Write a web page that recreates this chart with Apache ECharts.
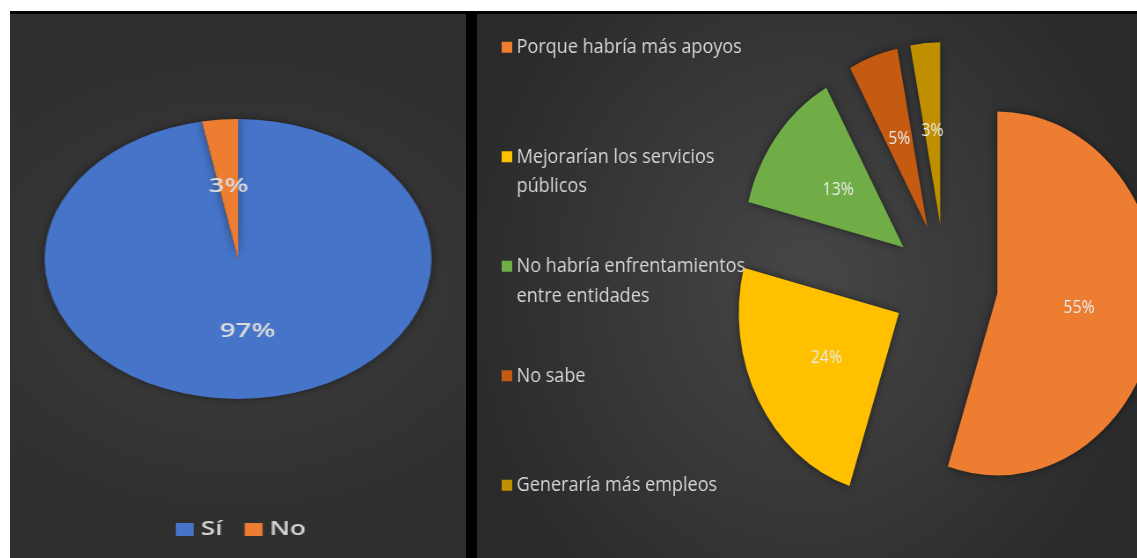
<!DOCTYPE html>
<html>
<head>
<meta charset="utf-8">
<script src="https://cdn.jsdelivr.net/npm/echarts@6/dist/echarts.min.js"></script>
<style>
  html, body { margin: 0; padding: 0; background: #fff; overflow: hidden; width: 1137px; height: 558px; }
  .marco { position: absolute; left: 10px; top: 11px; width: 1127px; height: 547px; background: #000; }
  .panel { position: absolute; top: 14px; height: 544px; overflow: hidden; }
  .lienzo { height: 544px; transform-origin: 0 0; }
</style>
</head>
<body>
<div class="marco"></div>
<div class="panel" style="left:10px;width:456px">
  <div id="izq" class="lienzo" style="width:330px;transform:scaleX(1.382)"></div>
</div>
<div class="panel" style="left:477px;width:660px">
  <div id="der" class="lienzo" style="width:750px;transform:scaleX(0.88)"></div>
</div>
<script>
// datos
var respuestas = ['Sí', 'No'];
var respuestasValores = [97, 3];
var respuestasColores = ['#4674C8', '#ED7D31'];

var motivos = [
    'Porque habría más apoyos',
    'Mejorarían los servicios públicos',
    'No habría enfrentamientos entre entidades',
    'No sabe',
    'Generaría más empleos'
];
var motivosValores = [55, 24, 13, 5, 3];
var motivosColores = ['#ED7D31', '#FFC000', '#70AD47', '#C55A11', '#BF8F00'];

var fuente = "'Open Sans', 'Noto Sans', sans-serif";

function fondo(c1, c2) {
    return {
        type: 'radial', x: 0.5, y: 0.5, r: 0.75,
        colorStops: [{ offset: 0, color: c1 }, { offset: 1, color: c2 }]
    };
}

// corta el texto en lineas de ~26 caracteres
function partir(texto) {
    var palabras = texto.split(' ');
    var lineas = [];
    var actual = '';
    for (var i = 0; i < palabras.length; i++) {
        var prueba = actual ? actual + ' ' + palabras[i] : palabras[i];
        if (prueba.length > 26 && actual) {
            lineas.push(actual);
            actual = palabras[i];
        } else {
            actual = prueba;
        }
    }
    lineas.push(actual);
    return lineas;
}

// ---------- panel izquierdo ----------
var izq = echarts.init(document.getElementById('izq'));
izq.setOption({
    animation: false,
    backgroundColor: fondo('#3e3e3e', '#2f2f2f'),
    color: respuestasColores,
    legend: {
        data: respuestas,
        left: 120,
        top: 506,
        padding: 0,
        itemWidth: 13,
        itemHeight: 13,
        itemGap: 16,
        icon: 'rect',
        textStyle: { color: '#d4d4d4', fontSize: 19, fontWeight: 600, fontFamily: fuente }
    },
    series: [{
        type: 'pie',
        center: [165, 245],
        radius: 140,
        startAngle: 90,
        clockwise: true,
        avoidLabelOverlap: false,
        emphasis: { disabled: true },
        itemStyle: { shadowBlur: 6, shadowColor: 'rgba(0,0,0,0.45)' },
        label: {
            show: true,
            position: 'inside',
            formatter: '{c}%',
            color: '#dcdcdc',
            fontSize: 20,
            fontWeight: 600,
            fontFamily: fuente
        },
        labelLine: { show: false },
        labelLayout: { hideOverlap: false },
        data: respuestas.map(function (n, i) {
            return { name: n, value: respuestasValores[i] };
        })
    }]
});

// ---------- panel derecho ----------
var der = echarts.init(document.getElementById('der'));
der.setOption({
    animation: false,
    backgroundColor: fondo('#474747', '#2a2a2a'),
    color: motivosColores,
    legend: {
        data: motivos,
        orient: 'vertical',
        left: 28,
        top: -11,
        padding: 0,
        itemWidth: 12,
        itemHeight: 11,
        itemGap: 21,
        icon: 'rect',
        selectedMode: false,
        formatter: function (nombre) {
            var l = partir(nombre);
            if (l.length === 1) l.push('\u00a0');
            return ['\u00a0'].concat(l).join('\n');
        },
        textStyle: { color: '#d6d6d6', fontSize: 20.5, lineHeight: 29.5, fontFamily: fuente }
    },
    series: [{
        type: 'pie',
        center: [532, 270],
        radius: 182,
        startAngle: 90,
        clockwise: true,
        selectedMode: 'multiple',
        selectedOffset: 60,
        avoidLabelOverlap: false,
        emphasis: { disabled: true },
        itemStyle: { shadowBlur: 8, shadowColor: 'rgba(0,0,0,0.5)' },
        label: {
            show: true,
            position: 'inside',
            formatter: '{c}%',
            color: '#ececec',
            fontSize: 18,
            fontFamily: fuente
        },
        labelLine: { show: false },
        labelLayout: { hideOverlap: false },
        data: motivos.map(function (n, i) {
            return { name: n, value: motivosValores[i], selected: true };
        })
    }]
});
</script>
</body>
</html>
